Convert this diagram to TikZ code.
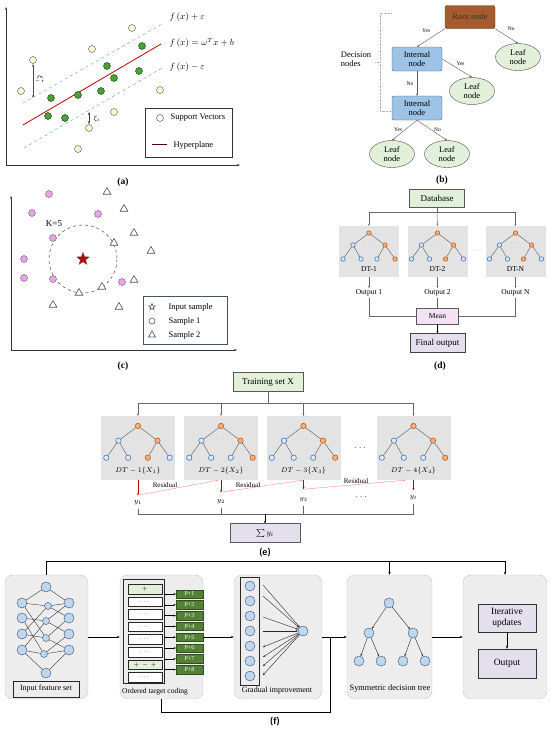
\documentclass[tikz,border=0pt]{standalone}
\usepackage{amsmath}
\usepackage{fontspec}
\setmainfont{Liberation Serif}
\newfontfamily\calib{Carlito}
\usetikzlibrary{shapes.geometric,arrows.meta,positioning}

\definecolor{svcream}{HTML}{FFF5CC}
\definecolor{svgreen}{HTML}{4E9E3C}
\definecolor{dashblue}{HTML}{5B9BD5}
\definecolor{hyperred}{HTML}{C00000}
\definecolor{knnpink}{HTML}{E6A6E6}
\definecolor{knnblue}{HTML}{44546A}
\definecolor{rootbrown}{HTML}{A65B2E}
\definecolor{intblue}{HTML}{9DC3E6}
\definecolor{leafgreen}{HTML}{E2F0D9}
\definecolor{boxgray}{HTML}{E3E3E3}
\definecolor{tblue}{HTML}{DEEBF7}
\definecolor{tbluedraw}{HTML}{4472C4}
\definecolor{torange}{HTML}{F4B183}
\definecolor{torangedraw}{HTML}{C55A11}
\definecolor{meanpink}{HTML}{F4E1F4}
\definecolor{lavender}{HTML}{E4DFEC}
\definecolor{panelgray}{HTML}{EDEDED}
\definecolor{nnblue}{HTML}{BDD7EE}
\definecolor{nndraw}{HTML}{3B4F6B}
\definecolor{pgreen}{HTML}{548235}

\tikzset{
  tnode/.style={circle,inner sep=0pt,line width=0.6pt},
  tbl/.style={tnode,draw=tbluedraw,fill=tblue},
  tor/.style={tnode,draw=torangedraw,fill=torange},
  flowbox/.style={draw=gray!70!black,inner sep=1pt,align=center},
  panelbox/.style={draw=gray!45,fill=panelgray,rounded corners=8pt},
  nnode/.style={circle,draw=nndraw,fill=nnblue,inner sep=0pt,minimum size=10pt},
  panellab/.style={font=\bfseries\fontsize{9.5}{10}\selectfont},
}

\newcommand{\minitree}[8]{% name, x, y, scale, leaf styles
  \begin{scope}[shift={(#2,#3)},scale=#4]
    \node[tor,minimum size=#4*4.4pt] (#1r) at (0,0) {};
    \node[tbl,minimum size=#4*4.4pt] (#1a) at (-16,12) {};
    \node[tor,minimum size=#4*4.4pt] (#1b) at (16,12) {};
    \node[#5,minimum size=#4*4.4pt] (#1c) at (-26,26) {};
    \node[#6,minimum size=#4*4.4pt] (#1d) at (-8,26) {};
    \node[#7,minimum size=#4*4.4pt] (#1e) at (8,26) {};
    \node[#8,minimum size=#4*4.4pt] (#1f) at (26,26) {};
    \node[font=\fontsize{5}{5}\selectfont,gray] (#1dots) at (0,11) {$\cdots$};
    \draw[gray!70!black] (#1r)--(#1a) (#1r)--(#1b) (#1a)--(#1c) (#1a)--(#1d) (#1b)--(#1e) (#1b)--(#1f);
  \end{scope}}

\begin{document}
\begin{tikzpicture}[x=1pt,y=-1pt,>={Stealth[length=3pt,width=2.2pt]},
  font=\fontsize{8}{9}\selectfont]
\useasboundingbox (0,0) rectangle (550,732);

% (a) support vector regression
\draw[->,black!80] (6,165)--(6,7);
\draw[->,black!80] (6,165)--(240,165);
\draw[dashed,dashblue] (23,103)--(162,24);
\draw[hyperred,thick] (23,125)--(161,44);
\draw[dashed,dashblue] (24,148)--(162,68);
\foreach \p in {(132,28),(92,49),(33,60),(21,91),(160,90),(114,112),(89,128),(78,149)}
  \draw[fill=svcream,draw=gray!60!black] \p circle (3.5);
\foreach \p in {(142,46),(107,66),(139,71),(114,78),(51,98),(78,95),(101,91),(48,116),(65,118)}
  \draw[fill=svgreen,draw=green!25!black] \p circle (3.5);
\draw[<->,gray!60!black,thick] (33,64)--(33,98);
\node[rotate=-90,font=\fontsize{7}{8}\selectfont] (xistar) at (40,80) {$\xi_i^{*}$};
\draw[<->,black!80] (89,112)--(89,124);
\node[font=\fontsize{7}{8}\selectfont] (xii) at (97,119) {$\xi_i$};
\node[right,font=\fontsize{9}{10}\selectfont] (fplus) at (166,17) {$f\left(x\right)+\varepsilon$};
\node[right,font=\fontsize{9}{10}\selectfont] (fmid) at (166,43) {$f\left(x\right)=\omega^{T}x+b$};
\node[right,font=\fontsize{9}{10}\selectfont] (fminus) at (166,67) {$f\left(x\right)-\varepsilon$};
\draw[gray!40!black] (145,108) rectangle (232,157);
\draw[fill=white,draw=gray!40!black] (160,118) circle (3.5);
\node[right,font=\fontsize{8.5}{9}\selectfont] (svlab) at (167,118) {Support Vectors};
\draw[hyperred!40!black] (152,144)--(167,144);
\node[right,font=\fontsize{8.5}{9}\selectfont] (hplab) at (170,145) {Hyperplane};
\node[panellab] (labA) at (123,182) {(a)};

% (b) decision tree
\node[draw=rootbrown!60!black,fill=rootbrown,rounded corners=2pt,minimum width=50pt,minimum height=23pt,font=\fontsize{8.5}{9}\selectfont,text=black!80] (root) at (470,17) {Root node};
\node[draw=intblue!50!black,fill=intblue,rounded corners=2pt,minimum width=50pt,minimum height=24pt,align=center,inner sep=0pt,font=\fontsize{8.5}{9}\selectfont] (int1) at (417,59) {Internal\\node};
\node[draw=intblue!50!black,fill=intblue,rounded corners=2pt,minimum width=50pt,minimum height=24pt,align=center,inner sep=0pt,font=\fontsize{8.5}{9}\selectfont] (int2) at (417,108) {Internal\\node};
\foreach \n/\p in {leafA/{(518,57)},leafB/{(472,91)},leafC/{(392,154)},leafD/{(447,154)}}
  \node[ellipse,draw=gray!60!black,fill=leafgreen,minimum width=45pt,minimum height=27pt,inner sep=0pt,align=center,font=\fontsize{8.5}{9}\selectfont] (\n) at \p {Leaf\\node};
\begin{scope}[gray!70!black,->,>={Stealth[length=2.2pt,width=2pt]},every node/.style={font=\fontsize{5.5}{6}\selectfont,text=black}]
  \draw (root.south west) -- node[above left,pos=0.4] (yes1) {Yes} (int1.north);
  \draw (root.south east) -- node[above right,pos=0.4] (no1) {No} (leafA.north);
  \draw (int1.east) -- node[above,pos=0.55,xshift=2pt] (yes2) {Yes} (leafB.north);
  \draw (int1.south) -- node[left] (no2) {No} (int2.north);
  \draw (int2.south) -- node[left,pos=0.45] (yes3) {Yes} (leafC.north);
  \draw (int2.south) -- node[right,pos=0.45] (no3) {No} (leafD.north);
\end{scope}
\draw[densely dotted,gray!60] (391,13)--(380,13)--(380,111)--(391,111) (380,62)--(375,62);
\node[align=left,font=\fontsize{8.5}{9.5}\selectfont] (decn) at (356,59) {Decision\\nodes};
\node[panellab] (labB) at (442,180) {(b)};

% (c) k nearest neighbours
\draw[->,black!80] (11,350)--(11,196);
\draw[->,black!80] (11,350)--(237,350);
\draw[dashed,gray!30!black] (83,259) circle (34);
\foreach \p in {(49,194),(32,213),(98,214),(53,238),(24,259),(24,278),(53,279),(122,282)}
  \draw[fill=knnpink,draw=knnpink!50!black] \p circle (3.5);
\foreach \p in {(107,192),(124,209),(134,233),(114,243),(151,251),(134,280),(102,287),(79,293),(53,305),(119,307)}
  \node[regular polygon,regular polygon sides=3,draw=knnblue,fill=white,line width=0.6pt,inner sep=0pt,minimum size=9pt] at \p {};
\node[star,star points=5,star point ratio=2.4,fill=hyperred,draw=black!70,minimum size=13pt,inner sep=0pt] (query) at (83,259) {};
\node[font=\fontsize{9}{10}\selectfont] (klab) at (54,224) {K=5};
\draw[knnblue] (143,296) rectangle (227,344);
\node[star,star points=5,star point ratio=2.4,draw=knnblue,line width=0.6pt,minimum size=7pt,inner sep=0pt] (kstar) at (152,307) {};
\draw[draw=knnblue,line width=0.6pt] (152,321) circle (3);
\node[regular polygon,regular polygon sides=3,draw=knnblue,line width=0.6pt,inner sep=0pt,minimum size=8pt] (ktri) at (152,335) {};
\node[right,font=\fontsize{8.5}{9}\selectfont] (klA) at (165,307) {Input sample};
\node[right,font=\fontsize{8.5}{9}\selectfont] (klB) at (165,321) {Sample 1};
\node[right,font=\fontsize{8.5}{9}\selectfont] (klC) at (165,335) {Sample 2};
\node[panellab] (labC) at (123,366) {(c)};

% (d) random forest
\node[flowbox,fill=leafgreen,minimum width=55pt,minimum height=18pt,font=\fontsize{9}{10}\selectfont] (db) at (437,198) {Database};
\foreach \n/\x/\l in {dtA/369/DT-1,dtB/437.5/DT-2,dtC/515.5/DT-N}
  {\node[fill=boxgray,minimum width=60pt,minimum height=51pt] (\n) at (\x,251.5) {};
   \node[font=\fontsize{7.5}{8}\selectfont] (\n lab) at (\x,269) {\l};}
\minitree{dA}{369}{233}{1}{tbl}{tbl}{tbl}{tor}
\minitree{dB}{437.5}{233}{1}{tbl}{tbl}{tor}{tbl}
\minitree{dC}{515.5}{233}{1}{tbl}{tbl}{tor}{tbl}
\node[gray] (ddots) at (478,251) {$\cdots$};
\begin{scope}[gray!80!black,>={Stealth[length=2.2pt,width=2pt]}]
  \draw (db.south) -- ++(0,5) coordinate (dsplit);
  \draw[->] (dsplit) -| (dtA.north);
  \draw[->] (dsplit) -| (dtC.north);
  \draw[->] (dsplit) -- (dtB.north);
\end{scope}
\foreach \n/\x/\l in {outA/369/Output 1,outB/437.5/Output 2,outC/515.5/Output N}
  \node[font=\fontsize{7.5}{8}\selectfont,inner sep=1.5pt] (\n) at (\x,293) {\l};
\node[flowbox,fill=meanpink,minimum width=42pt,minimum height=16pt,font=\fontsize{7.5}{8}\selectfont] (mean) at (437.5,316) {Mean};
\node[flowbox,fill=lavender,draw=gray!50!black,minimum width=55pt,minimum height=19pt,font=\fontsize{9}{10}\selectfont] (final) at (437.5,343) {Final output};
\begin{scope}[gray!80!black,>={Stealth[length=2.2pt,width=2pt]}]
  \draw[->] (dtA.south) -- (outA.north);
  \draw[->] (dtB.south) -- (outB.north);
  \draw[->] (dtC.south) -- (outC.north);
  \draw (outA.south) |- (mean.west);
  \draw (outC.south) |- (mean.east);
  \draw (outB.south) -- (mean.north);
  \draw[->,black] (mean.south) -- (final.north);
\end{scope}
\node[panellab] (labD) at (440,366) {(d)};

% (e) gradient boosting
\node[flowbox,fill=leafgreen,minimum width=70pt,minimum height=19pt,font=\fontsize{9}{10}\selectfont] (train) at (268,382) {Training set X};
\foreach \n/\x/\k in {e1/138/1,e2/221/2,e3/303.5/3,e4/413.5/4}
  {\node[fill=boxgray,minimum width=74pt,minimum height=64pt] (\n) at (\x,448) {};
   \node[font=\fontsize{7.5}{8}\selectfont] (\n lab) at (\x,471) {$DT-\k\{X_\k\}$};}
\minitree{tA}{138}{426}{1.22}{tbl}{tbl}{tor}{tbl}
\minitree{tB}{221}{426}{1.22}{tbl}{tbl}{tbl}{tor}
\minitree{tC}{303.5}{426}{1.22}{tbl}{tbl}{tbl}{tor}
\minitree{tD}{413.5}{426}{1.22}{tbl}{tbl}{tbl}{tor}
\node[gray!60!black,font=\fontsize{10}{10}\selectfont] (edots) at (361,448) {$\cdots$};
\begin{scope}[gray!80!black,>={Stealth[length=2.2pt,width=2pt]}]
  \draw (train.south) -- ++(0,11) coordinate (esplit);
  \draw[->] (esplit) -| (e1.north);
  \draw[->] (esplit) -| (e4.north);
  \draw[->] (esplit -| e2.north) -- (e2.north);
  \draw[->] (esplit -| e3.north) -- (e3.north);
\end{scope}
\node[font=\fontsize{7}{8}\selectfont] (y1) at (138,503) {$y_1$};
\node[font=\fontsize{7}{8}\selectfont] (y2) at (221,502) {$y_2$};
\node[font=\fontsize{7}{8}\selectfont] (y3) at (303.5,500) {$y_3$};
\node[font=\fontsize{7}{8}\selectfont] (yt) at (413.5,498) {$y_t$};
\node[gray!60!black,font=\fontsize{10}{10}\selectfont] (ydots) at (362,497) {$\cdots$};
\begin{scope}[red!75!black,>={Stealth[length=2.2pt,width=2pt]}]
  \draw[->] (e1.south) -- ++(0,15) coordinate (r1);
  \draw[->] (e2.south) -- ++(0,12) coordinate (r2);
  \draw[->] (e3.south) -- ++(0,9) coordinate (r3);
  \draw[->] (e4.south) -- ++(0,10) coordinate (r4);
  \draw[red!45,->] (r1) -- ([xshift=-3pt]e2.south);
  \draw[red!45,->] (r2) -- ([xshift=-1pt]e3.south);
  \draw[red!45,->] (r3) -- ([xshift=-8pt]e4.south);
\end{scope}
\node[font=\fontsize{7}{8}\selectfont] (resA) at (165,485) {Residual};
\node[font=\fontsize{7}{8}\selectfont] (resB) at (248,485) {Residual};
\node[font=\fontsize{7}{8}\selectfont] (resC) at (356,481) {Residual};
\node[flowbox,fill=lavender,minimum width=70pt,minimum height=19pt,font=\fontsize{8}{9}\selectfont] (sum) at (265,533) {$\sum y_i$};
\begin{scope}[gray!80!black,>={Stealth[length=2.2pt,width=2pt]}]
  \coordinate (ejoin) at (265,514);
  \draw (y1.south) -- (y1.south |- ejoin) -- (yt.south |- ejoin) -- (yt.south);
  \draw (y2.south) -- (y2.south |- ejoin);
  \draw (y3.south) -- (y3.south |- ejoin);
  \draw[->,black] (ejoin) -- (sum.north);
\end{scope}
\node[panellab,font=\calib\bfseries\fontsize{10}{10}\selectfont] (labE) at (265,553) {(e)};

% (f) catboost pipeline
\foreach \n/\x/\w in {fA/46.5/83pt,fB/161.5/83pt,fC/278/88pt,fD/389.5/85pt,fE/505/84pt}
  \node[panelbox,minimum width=\w,minimum height=124pt] (\n) at (\x,637) {};
% input network
\node[nnode] (nT) at (46,587) {};
\node[nnode] (nB) at (46,673) {};
\foreach \k/\y in {1/603,2/618,3/634,4/650}
  {\node[nnode] (nL\k) at (22,\y) {};
   \node[nnode] (nR\k) at (69,\y) {};}
\foreach \k/\x/\y in {1/48/606,2/46/621,3/46/638,4/44/654}
  \node[nnode,minimum size=7pt] (nM\k) at (\x,\y) {};
\foreach \a/\b in {nT/nL1,nT/nR1,nL4/nB,nR4/nB,nL1/nM1,nL1/nM3,nL2/nM2,nL2/nM4,nL3/nM1,nL3/nM3,nL4/nM2,nL4/nM4,
    nM1/nR1,nM1/nR2,nM2/nR1,nM2/nR3,nM3/nR2,nM3/nR4,nM4/nR3,nM4/nR4}
  \draw[gray!30!black,line width=0.35pt] (\a)--(\b);
\node[draw=gray!30!black,minimum width=66pt,minimum height=16pt,inner sep=0pt] (ifs) at (46,689) {Input feature set};
% ordered target coding
\node[draw=gray!30!black,minimum width=41pt,minimum height=104pt] (otc) at (143.5,631) {};
\foreach \k in {1,...,8}
  {\pgfmathsetmacro\yy{589+12.6*(\k-1)}
   \pgfmathsetmacro\py{594+10.8*(\k-1)}
   \ifnum\k=1 \def\cc{leafgreen}\def\tt{$+$}\else\ifnum\k=7 \def\cc{leafgreen}\def\tt{$+\,-\,+$}\else\def\cc{white}\def\tt{$\cdots$}\fi\fi
   \node[draw=gray!30!black,fill=\cc,minimum width=34pt,minimum height=9.5pt,inner sep=0pt,font=\fontsize{6.5}{7}\selectfont] (ot\k) at (145,\yy) {\tt};
   \node[fill=pgreen,draw=pgreen!60!black,text=white,minimum width=27pt,minimum height=8.5pt,inner sep=0pt,font=\fontsize{6}{6}\selectfont] (pp\k) at (189.5,\py) {P+\k};
   \draw[->,>={Stealth[length=2.2pt,width=2pt]}] (otc.east |- pp\k) -- (pp\k.west);}
\node[font=\fontsize{7.5}{8}\selectfont] (otclab) at (155,692) {Ordered target coding};
% gradual improvement
\node[draw=gray!30!black,minimum width=19pt,minimum height=108pt] (gcol) at (249.5,631) {};
\foreach \k in {1,...,7}
  {\pgfmathsetmacro\yy{586+15*(\k-1)}
   \node[nnode] (g\k) at (250,\yy) {};}
\node[nnode] (go) at (303,631) {};
\foreach \k/\y in {1/585,2/596,3/617,4/631}
  {\coordinate (gin\k) at (263,\y);
   \draw[->,gray!30!black,>={Stealth[length=2.2pt,width=2pt]}] (gin\k) -- (go);}
\foreach \k/\y in {1/647,2/657,3/666,4/675}
  {\coordinate (gout\k) at (263,\y);
   \draw[->,gray!30!black,>={Stealth[length=2.2pt,width=2pt]}] (go) -- (gout\k);}
\node[font=\fontsize{8}{9}\selectfont] (gilab) at (277,691) {Gradual improvement};
% symmetric tree
\node[nnode] (s1) at (389,603) {};
\node[nnode] (s2) at (369,633) {};
\node[nnode] (s3) at (413,633) {};
\foreach \k/\x in {4/359,5/381,6/403,7/425}
  \node[nnode] (s\k) at (\x,661) {};
\foreach \a/\b in {s1/s2,s1/s3,s2/s4,s2/s5,s3/s6,s3/s7}
  \draw[->,gray!30!black,>={Stealth[length=2.2pt,width=2pt]}] (\a)--(\b);
\node[font=\fontsize{8.3}{9}\selectfont] (sdlab) at (390,689) {Symmetric decision tree};
% output
\node[draw=gray!40!black,fill=lavender,minimum width=58pt,minimum height=28pt,align=center,font=\fontsize{9.5}{11}\selectfont] (iter) at (507,618) {Iterative\\updates};
\node[draw=gray!40!black,fill=lavender,minimum width=58pt,minimum height=29pt,font=\fontsize{9.5}{11}\selectfont] (fout) at (507,663.5) {Output};
\draw[->] (iter.south) -- (fout.north);
% links between stages
\draw[->] (fA.east) -- (fB.west);
\draw[->] (fB.east) -- (fC.west);
\draw[->] (fC.east) -- (fD.west);
\draw[->] (fD.east) -- (fE.west);
\draw[->] (fA.north) -- ++(0,-14) coordinate (ftop) -| (fE.north);
\draw[->] (ftop -| fD.north) -- (fD.north);
\coordinate (fjoin) at (330,637);
\draw (fB.south) -- ++(0,13) -| (fjoin);
\node[panellab,font=\calib\bfseries\fontsize{10}{10}\selectfont] (labF) at (275,722) {(f)};
\end{tikzpicture}
\end{document}
